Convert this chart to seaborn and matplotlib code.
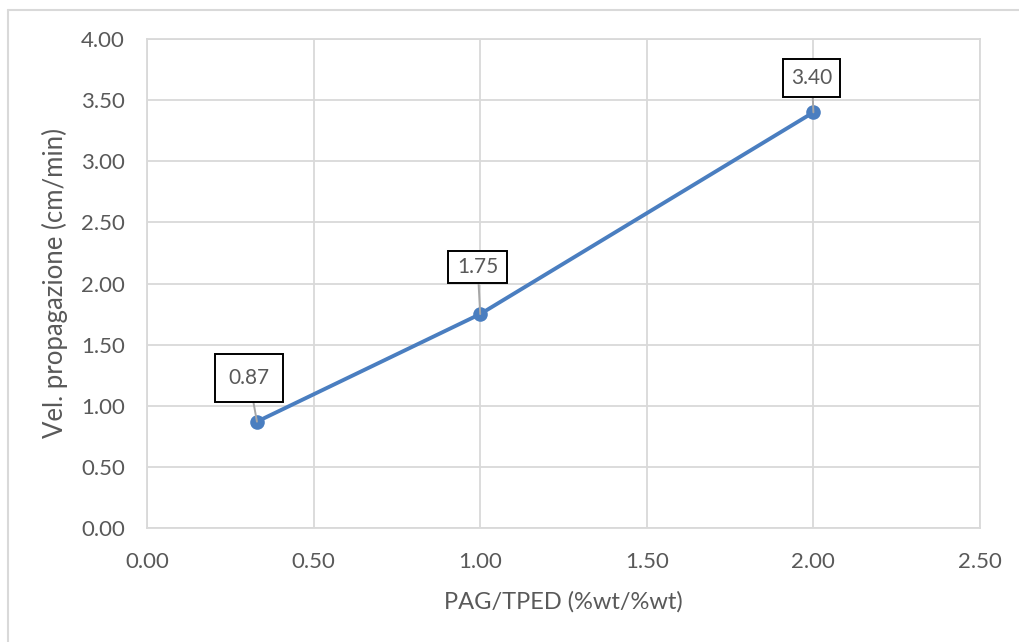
import matplotlib
matplotlib.use("Agg")
import matplotlib.pyplot as plt
from matplotlib.lines import Line2D
import seaborn as sns
import pandas as pd

# Data
ratio = [0.33, 1.00, 2.00]
speed = [0.87, 1.75, 3.40]
value_labels = ["0.87", "1.75", "3.40"]
x_ticks = [0.00, 0.50, 1.00, 1.50, 2.00, 2.50]
y_ticks = [0.00, 0.50, 1.00, 1.50, 2.00, 2.50, 3.00, 3.50, 4.00]
x_title = "PAG/TPED (%wt/%wt)"
y_title = "Vel. propagazione (cm/min)"

sns.set_style("white")
plt.rcParams["font.family"] = ["Lato", "DejaVu Sans"]

TEXT = "#595959"
GRID = "#D9D9D9"
BLUE = "#4A7EC0"

fig = plt.figure(figsize=(10.19, 6.42), dpi=100)
ax = fig.add_axes([147 / 1019, 1 - 528 / 642, (980 - 147) / 1019, (528 - 39) / 642])

df = pd.DataFrame({"x": ratio, "y": speed})
sns.lineplot(data=df, x="x", y="y", ax=ax, color=BLUE, linewidth=2.8,
             marker="o", markersize=10.5, markeredgewidth=0, zorder=3)

ax.set_xlim(0, 2.5)
ax.set_ylim(0, 4)
ax.set_xticks(x_ticks)
ax.set_yticks(y_ticks)
ax.set_xticklabels([f"{v:.2f}" for v in x_ticks])
ax.set_yticklabels([f"{v:.2f}" for v in y_ticks])
ax.grid(True, color=GRID, linewidth=1.3)
ax.set_axisbelow(True)
for s in ax.spines.values():
    s.set_color(GRID)
    s.set_linewidth(1.3)
ax.tick_params(axis="both", length=0, labelsize=16, labelcolor=TEXT)
ax.tick_params(axis="x", pad=17)
ax.tick_params(axis="y", pad=16)

ax.set_xlabel(x_title, fontsize=17, color=TEXT, labelpad=14)
ax.set_ylabel(y_title, fontsize=18.5, color=TEXT, labelpad=9)

# Data labels with leader lines (offsets in pixels from each point)
offsets = [(-8, 44), (-2.5, 47), (-1.5, 34)]
pads = [0.65, 0.43, 0.38]
aspects = [1.04, 0.67, 1.12]
for xv, yv, lab, (dx, dy), pad, asp in zip(ratio, speed, value_labels, offsets, pads, aspects):
    ax.annotate(lab, xy=(xv, yv), xytext=(dx * 0.72, dy * 0.72), textcoords="offset points",
                ha="center", va="center", fontsize=15, color=TEXT,
                bbox=dict(boxstyle=f"square,pad={pad}", fc="white", ec="black", lw=1.4,
                          mutation_aspect=asp),
                arrowprops=dict(arrowstyle="-", color="#A6A6A6", lw=1.4,
                                shrinkA=0, shrinkB=0),
                zorder=4)

# Chart frame
fig.add_artist(Line2D([8 / 1019, 1.0], [1 - 9.5 / 642] * 2, transform=fig.transFigure,
                      color=GRID, lw=1.5))
fig.add_artist(Line2D([8 / 1019] * 2, [0.0, 1 - 9.5 / 642], transform=fig.transFigure,
                      color=GRID, lw=1.5))

fig.savefig("out.png", dpi=100)
